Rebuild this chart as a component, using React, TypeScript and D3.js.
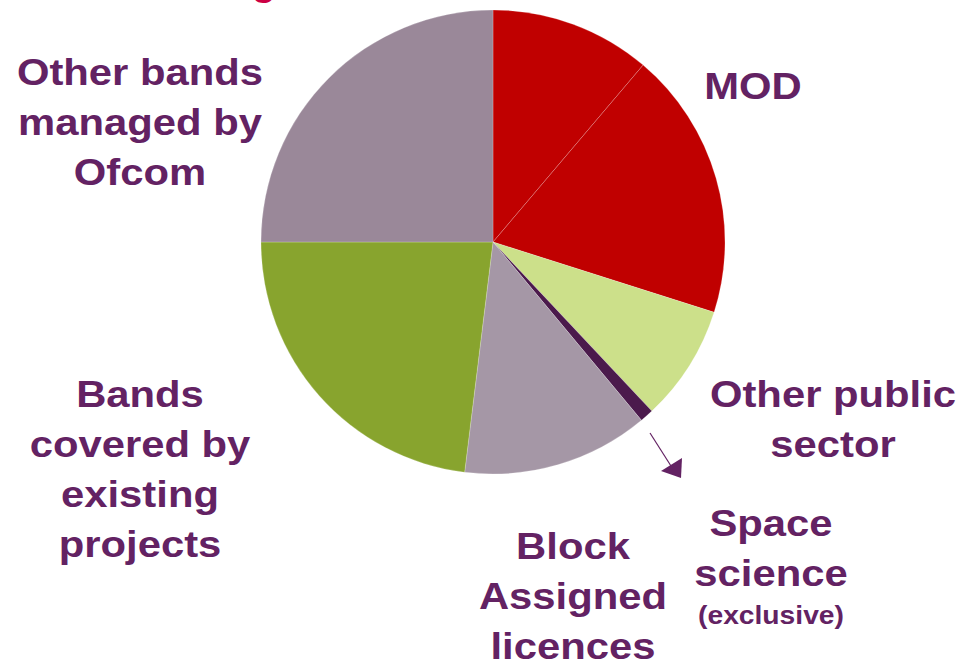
import React from "react";
import * as d3 from "d3";

const categories = [
  "MOD (a)",
  "MOD (b)",
  "Other public sector",
  "Space science (exclusive)",
  "Block Assigned licences",
  "Bands covered by existing projects",
  "Other bands managed by Ofcom",
];
const shares = [11.2, 18.7, 8.1, 0.95, 13.0, 23.05, 25.0];
const colors = ["#C00000", "#C00000", "#CCE08A", "#4B1A4C", "#A597A6", "#88A42E", "#9A8899"];

const W = 961;
const H = 663;
const cx = 493;
const cy = 242;
const R = 232;
const textColor = "#632263";

type Label = { lines: string[]; x: number; y: number; small?: string };
const labels: Label[] = [
  { lines: ["Other bands", "managed by", "Ofcom"], x: 140, y: 85 },
  { lines: ["MOD"], x: 753, y: 99 },
  { lines: ["Other public", "sector"], x: 833, y: 407 },
  { lines: ["Bands", "covered by", "existing", "projects"], x: 140, y: 407 },
  { lines: ["Block", "Assigned", "licences"], x: 573, y: 559 },
  { lines: ["Space", "science"], x: 771, y: 536, small: "(exclusive)" },
];

export default function App() {
  const pie = d3
    .pie<number>()
    .sort(null)
    .value((d) => d)
    .startAngle(0)
    .endAngle(2 * Math.PI);
  const arcs = pie(shares);
  const arcGen = d3.arc<d3.PieArcDatum<number>>().innerRadius(0).outerRadius(R);
  const fs = 37;
  const lh = 50;
  const sx = 1.13;
  return (
    <svg
      width={W}
      height={H}
      style={{ position: "absolute", left: 0, top: 0, background: "#fff" }}
      fontFamily="'Liberation Sans', Arial, sans-serif"
      fontWeight="bold"
    >
      <text x={264} y={-5} fontSize={40} fill="#CC0044" textAnchor="middle">
        g
      </text>
      <g transform={`translate(${cx},${cy})`}>
        {arcs.map((a, i) => (
          <path
            key={categories[i]}
            d={arcGen(a) || ""}
            fill={colors[i]}
            stroke="#ffffff"
            strokeOpacity={0.35}
            strokeWidth={0.6}
          />
        ))}
      </g>
      <line x1={650} y1={433} x2={671} y2={466} stroke={textColor} strokeWidth={1.2} />
      <polygon points="661,471 682,458 681,478" fill={textColor} />
      {labels.map((l, i) => (
        <g key={i} transform={`translate(${l.x},0) scale(${sx},1)`}>
          {l.lines.map((t, j) => (
            <text key={j} x={0} y={l.y + j * lh} fontSize={fs} fill={textColor} textAnchor="middle">
              {t}
            </text>
          ))}
          {l.small && (
            <text
              x={0}
              y={l.y + l.lines.length * lh - 12}
              fontSize={25}
              fill={textColor}
              textAnchor="middle"
            >
              {l.small}
            </text>
          )}
        </g>
      ))}
    </svg>
  );
}
